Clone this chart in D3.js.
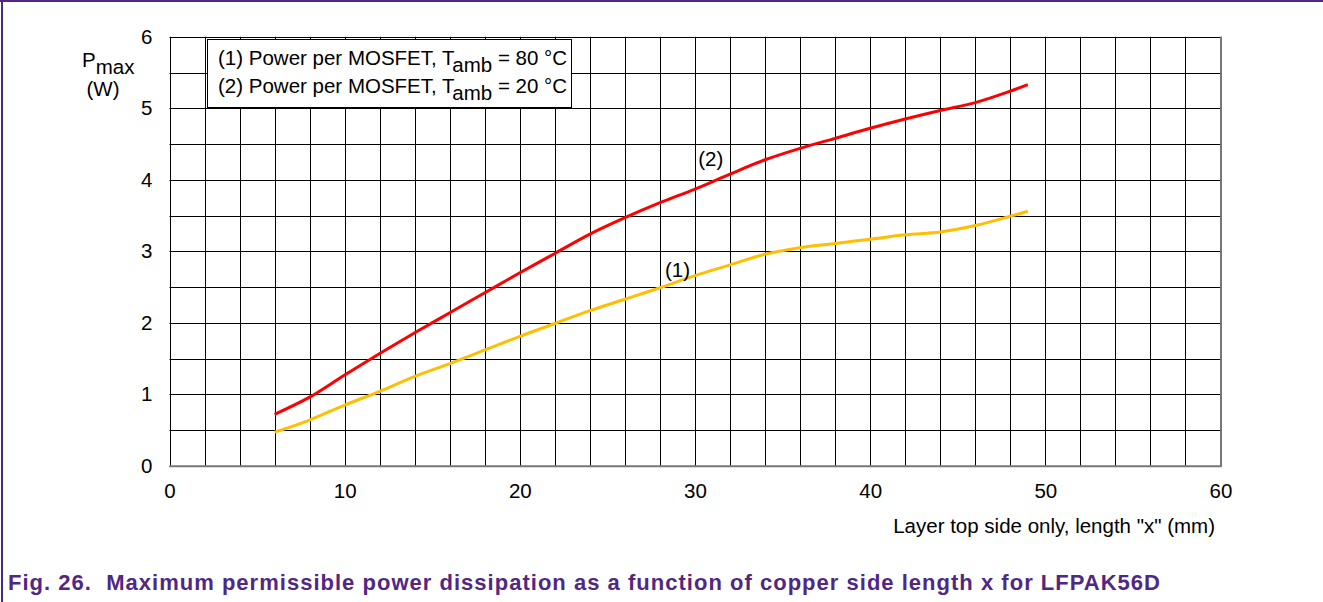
<!DOCTYPE html>
<html>
<head>
<meta charset="utf-8">
<script src="https://cdn.jsdelivr.net/npm/d3@7"></script>
<style>
  html, body { margin: 0; padding: 0; background: #fff; }
  svg { display: block; font-family: "Liberation Sans", Arial, sans-serif; }
</style>
</head>
<body>
<svg id="chart" width="1323" height="602"></svg>
<script>
// x = copper side length (mm)
const xValues = [6, 8, 10, 12, 14, 16, 18, 20, 22, 24, 26, 28, 30, 32, 34, 36, 38, 40, 42, 44, 46, 48, 49];
// (1) Tamb = 80 °C
const power80 = [0.47, 0.64, 0.85, 1.04, 1.25, 1.43, 1.62, 1.81, 1.99, 2.17, 2.33, 2.49, 2.66, 2.81, 2.96, 3.05, 3.11, 3.17, 3.23, 3.27, 3.36, 3.49, 3.56];
// (2) Tamb = 20 °C
const power20 = [0.72, 0.96, 1.27, 1.57, 1.86, 2.14, 2.42, 2.70, 2.97, 3.24, 3.47, 3.68, 3.87, 4.08, 4.28, 4.44, 4.58, 4.72, 4.85, 4.97, 5.08, 5.24, 5.33];
const xTicks = [0, 10, 20, 30, 40, 50, 60];
const yTicks = [0, 1, 2, 3, 4, 5, 6];
const legendLines = [
  { id: '(1)', text: 'Power per MOSFET, T', sub: 'amb', rest: ' = 80 °C' },
  { id: '(2)', text: 'Power per MOSFET, T', sub: 'amb', rest: ' = 20 °C' }
];
const caption = 'Fig. 26.\u00a0\u00a0Maximum permissible power dissipation as a function of copper side length x for LFPAK56D';

const svg = d3.select('#chart');
const purple = '#502782';
const fs = 20.5;

// outer frame (top + left only)
svg.append('line').attr('x1', 0).attr('x2', 1323).attr('y1', 1).attr('y2', 1)
  .attr('stroke', purple).attr('stroke-width', 2);
svg.append('line').attr('x1', 2).attr('x2', 2).attr('y1', 0).attr('y2', 602)
  .attr('stroke', purple).attr('stroke-width', 2);

const x = d3.scaleLinear().domain([0, 60]).range([169.5, 1220.5]);
const y = d3.scaleLinear().domain([0, 6]).range([465.8, 36.8]);

const grid = svg.append('g');
grid.selectAll('.vg')
  .data(d3.range(0, 61, 2))
  .enter().append('line')
  .attr('x1', d => Math.round(x(d)) + 0.5).attr('x2', d => Math.round(x(d)) + 0.5)
  .attr('y1', y(6)).attr('y2', y(0))
  .attr('stroke', '#000').attr('stroke-width', 1);
grid.selectAll('.hg')
  .data(d3.range(0, 6.01, 0.5))
  .enter().append('line')
  .attr('x1', x(0)).attr('x2', x(60))
  .attr('y1', d => Math.round(y(d)) + 0.5).attr('y2', d => Math.round(y(d)) + 0.5)
  .attr('stroke', '#000').attr('stroke-width', 1);

// bottom and right edges appear grey and heavier
svg.append('line').attr('x1', x(0)).attr('x2', x(60) + 1)
  .attr('y1', y(0) + 0.5).attr('y2', y(0) + 0.5)
  .attr('stroke', '#777').attr('stroke-width', 2);
svg.append('line').attr('x1', x(60) + 0.5).attr('x2', x(60) + 0.5)
  .attr('y1', y(6)).attr('y2', y(0) + 1)
  .attr('stroke', '#777').attr('stroke-width', 2);

// axes (labels only)
const xAxis = svg.append('g')
  .attr('transform', `translate(0, ${y(0)})`)
  .call(d3.axisBottom(x).tickValues(xTicks).tickFormat(d3.format('d')).tickSize(0).tickPadding(18));
const yAxis = svg.append('g')
  .attr('transform', `translate(${x(0)}, 0)`)
  .call(d3.axisLeft(y).tickValues(yTicks).tickFormat(d3.format('d')).tickSize(0).tickPadding(17));
[xAxis, yAxis].forEach(a => {
  a.select('.domain').remove();
  a.attr('font-size', fs).attr('font-family', '"Liberation Sans", Arial, sans-serif');
  a.selectAll('text').attr('fill', '#000');
});

// curves
const line = d3.line()
  .x(d => x(d[0]))
  .y(d => y(d[1]))
  .curve(d3.curveCatmullRom.alpha(0.5));

svg.append('path')
  .datum(xValues.map((v, i) => [v, power80[i]]))
  .attr('d', line).attr('fill', 'none')
  .attr('stroke', '#ffbf00').attr('stroke-width', 3);
svg.append('path')
  .datum(xValues.map((v, i) => [v, power20[i]]))
  .attr('d', line).attr('fill', 'none')
  .attr('stroke', '#ff0000').attr('stroke-width', 3);

// curve labels
svg.append('text').attr('x', x(29)).attr('y', y(2.64))
  .attr('text-anchor', 'middle').attr('font-size', fs).text('(1)');
svg.append('text').attr('x', x(30.9)).attr('y', y(4.2))
  .attr('text-anchor', 'middle').attr('font-size', fs).text('(2)');

// legend box
svg.append('rect').attr('x', 207.5).attr('y', 39.5).attr('width', 364).attr('height', 68)
  .attr('fill', '#fff').attr('stroke', '#000').attr('stroke-width', 1);
const lg = svg.append('g');
legendLines.forEach((l, i) => {
  const t = lg.append('text').attr('x', 218).attr('y', 65 + i * 28).attr('font-size', fs);
  t.append('tspan').text(l.id + ' ' + l.text);
  t.append('tspan').attr('dy', 7).text(l.sub);
  t.append('tspan').attr('dy', -7).text(l.rest);
});

// y axis title
const yt = svg.append('text').attr('x', 82).attr('y', 67).attr('font-size', fs);
yt.append('tspan').text('P');
yt.append('tspan').attr('dy', 7).text('max');
svg.append('text').attr('x', 103).attr('y', 96).attr('text-anchor', 'middle')
  .attr('font-size', fs).text('(W)');

// x axis title
svg.append('text').attr('x', 1215).attr('y', 533).attr('text-anchor', 'end')
  .attr('font-size', fs).text('Layer top side only, length "x" (mm)');

// caption
svg.append('text').attr('x', 8).attr('y', 590)
  .attr('font-size', 22).attr('font-weight', 'bold').attr('fill', purple)
  .attr('textLength', 1152).attr('lengthAdjust', 'spacing')
  .text(caption);
</script>
</body>
</html>
